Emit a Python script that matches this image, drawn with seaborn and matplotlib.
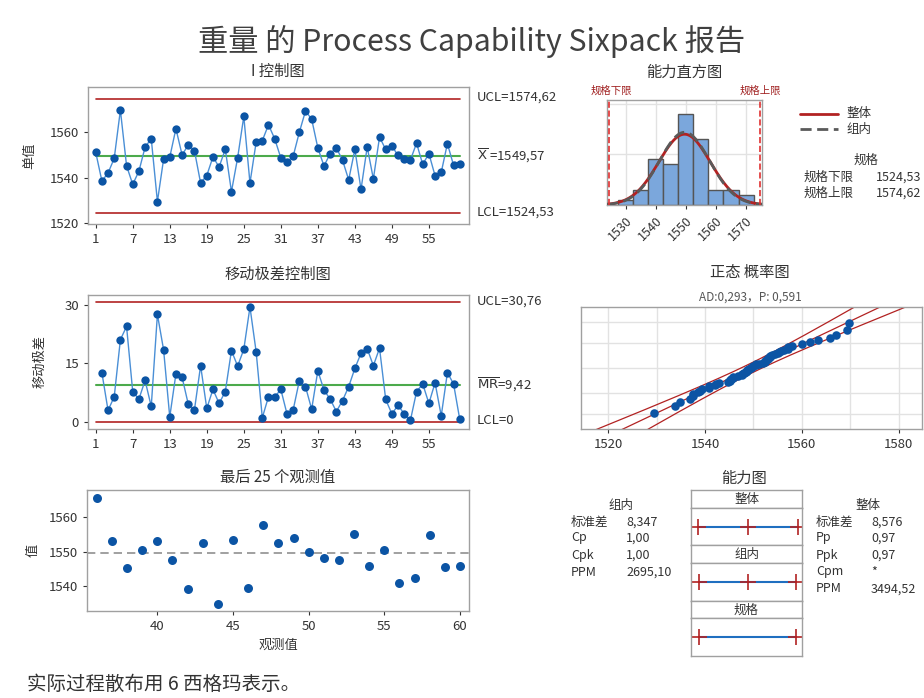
import numpy as np
import matplotlib
matplotlib.use("Agg")
import matplotlib.pyplot as plt
from matplotlib.lines import Line2D
import seaborn as sns
from statistics import NormalDist

# 数据
obs = np.arange(1, 61)
weight = [1551.2, 1538.5, 1542.0, 1548.5, 1569.8, 1545.2, 1537.0, 1542.8, 1553.4, 1557.2,
          1529.4, 1548.1, 1549.0, 1561.6, 1550.0, 1554.4, 1551.9, 1537.6, 1540.9, 1549.1,
          1544.7, 1552.5, 1533.8, 1548.7, 1567.0, 1537.6, 1555.6, 1556.3, 1563.3, 1557.2,
          1548.7, 1546.9, 1549.4, 1560.0, 1569.4, 1565.8, 1553.1, 1545.1, 1550.6, 1553.1,
          1547.7, 1539.0, 1552.4, 1534.8, 1553.5, 1539.4, 1557.9, 1552.4, 1553.9, 1549.8,
          1548.1, 1547.7, 1555.2, 1545.8, 1550.6, 1540.8, 1542.3, 1555.0, 1545.4, 1545.8]
mr_obs = np.arange(2, 61)
mr_vals = [12.6, 2.9, 6.4, 21.1, 24.5, 7.7, 5.8, 10.6, 3.9, 27.6,
           18.5, 1.2, 12.3, 11.4, 4.5, 3.0, 14.4, 3.4, 8.3, 4.7,
           7.7, 18.3, 14.3, 18.6, 29.5, 18.0, 1.0, 6.4, 6.3, 8.3,
           2.0, 3.0, 10.5, 9.0, 3.2, 13.1, 8.1, 5.8, 2.6, 5.4,
           9.0, 13.7, 17.6, 18.8, 14.4, 18.9, 5.7, 2.0, 4.2, 2.0,
           0.3, 7.7, 9.7, 4.7, 10.0, 1.5, 12.6, 9.7, 0.6]

x_bar, ucl_i, lcl_i = 1549.57, 1574.62, 1524.53
mr_bar, ucl_mr, lcl_mr = 9.42, 30.76, 0.0
lsl, usl = 1524.53, 1574.62
sd_within, sd_overall = 8.347, 8.576

within_rows = [("标准差", "8,347"), ("Cp", "1,00"), ("Cpk", "1,00"), ("PPM", "2695,10")]
overall_rows = [("标准差", "8,576"), ("Pp", "0,97"), ("Ppk", "0,97"), ("Cpm", "*"), ("PPM", "3494,52")]

# 颜色
pt_blue = "#0B54A4"
ln_blue = "#4A8FD6"
green = "#4CAA4C"
red = "#B22222"
txt = "#333333"
frame = "#A0A0A0"

sns.set_theme(style="white")
plt.rcParams['font.family'] = ['Noto Sans CJK SC', 'DejaVu Sans']
plt.rcParams['axes.unicode_minus'] = False

W, H = 924, 698
fig = plt.figure(figsize=(W / 100, H / 100), dpi=100)
fig.patch.set_facecolor("white")


def box(l, t, r, b):
    return fig.add_axes([l / W, 1 - b / H, (r - l) / W, (b - t) / H])


def ftext(x, y, s, **kw):
    kw.setdefault("color", txt)
    kw.setdefault("va", "center")
    fig.text(x / W, 1 - y / H, s, **kw)


def style(ax, size=9.5):
    for sp in ax.spines.values():
        sp.set_color(frame)
        sp.set_linewidth(1)
    ax.tick_params(labelsize=size, colors=txt, length=3, width=0.8, direction="out",
                   bottom=True, left=True)
    ax.set_facecolor("white")


ftext(472, 42, "重量 的 Process Capability Sixpack 报告", ha="center", fontsize=21.8, color="#404040")

# I 控制图
ax1 = box(88, 87, 469, 224)
style(ax1)
ax1.plot([1, 60], [ucl_i, ucl_i], color=red, lw=1.2)
ax1.plot([1, 60], [lcl_i, lcl_i], color=red, lw=1.2)
ax1.plot([1, 60], [x_bar, x_bar], color=green, lw=1.5)
sns.lineplot(x=obs, y=weight, ax=ax1, color=ln_blue, lw=1)
sns.scatterplot(x=obs, y=weight, ax=ax1, color=pt_blue, s=36, linewidth=0, zorder=3)
ax1.set_xlim(-0.25, 61.5)
ax1.set_ylim(1519.5, 1580)
ax1.set_xticks(range(1, 61, 6))
ax1.set_yticks([1520, 1540, 1560])
ax1.set_ylabel("单值", fontsize=9.5, color=txt)
ax1.yaxis.set_label_coords(-0.135, 0.5)
ax1.set_xlabel("")
ftext(278, 71, "I 控制图", ha="center", fontsize=11)
ftext(477, 97, "UCL=1574,62", fontsize=9.5)
ftext(477, 155, r"$\overline{\rm X}$ =1549,57", fontsize=9.5)
ftext(477, 212, "LCL=1524,53", fontsize=9.5)

# 移动极差控制图
ax2 = box(88, 295, 469, 429)
style(ax2)
ax2.plot([1, 60], [ucl_mr, ucl_mr], color=red, lw=1.2)
ax2.plot([1, 60], [lcl_mr, lcl_mr], color=red, lw=1.2)
ax2.plot([1, 60], [mr_bar, mr_bar], color=green, lw=1.5)
sns.lineplot(x=mr_obs, y=mr_vals, ax=ax2, color=ln_blue, lw=1)
sns.scatterplot(x=mr_obs, y=mr_vals, ax=ax2, color=pt_blue, s=36, linewidth=0, zorder=3)
ax2.set_xlim(-0.25, 61.5)
ax2.set_ylim(-1.9, 32.6)
ax2.set_xticks(range(1, 61, 6))
ax2.set_yticks([0, 15, 30])
ax2.set_ylabel("移动极差", fontsize=9.5, color=txt)
ax2.yaxis.set_label_coords(-0.11, 0.5)
ax2.set_xlabel("")
ftext(278, 274, "移动极差控制图", ha="center", fontsize=11)
ftext(477, 301, "UCL=30,76", fontsize=9.5)
ftext(477, 384, r"$\overline{\rm MR}$=9,42", fontsize=9.5)
ftext(477, 420, "LCL=0", fontsize=9.5)

# 最后 25 个观测值
ax3 = box(87, 490, 469, 611)
style(ax3)
ax3.axhline(x_bar, color="#909090", lw=1.2, ls=(0, (5, 3)))
sns.scatterplot(x=obs[-25:], y=weight[-25:], ax=ax3, color=pt_blue, s=42, linewidth=0, zorder=3)
ax3.set_xlim(35.35, 60.6)
ax3.set_ylim(1532.7, 1568)
ax3.set_xticks(range(40, 61, 5))
ax3.set_yticks([1540, 1550, 1560])
ax3.set_xlabel("观测值", fontsize=9.5, color=txt)
ax3.set_ylabel("值", fontsize=9.5, color=txt)
ax3.yaxis.set_label_coords(-0.125, 0.5)
ftext(278, 477, "最后 25 个观测值", ha="center", fontsize=11)

# 能力直方图
ax4 = box(607, 100, 762, 205)
style(ax4, 9)
ax4.set_axisbelow(True)
ax4.grid(True, color="#E2E2E2", lw=1)
sns.histplot(x=weight, bins=np.arange(1527.5, 1573, 5), ax=ax4, color="#7BA7DC",
             edgecolor="#555555", linewidth=1, alpha=1)
xs = np.linspace(1523.8, 1575.3, 300)
nd_over = NormalDist(x_bar, sd_overall)
nd_with = NormalDist(x_bar, sd_within)
scale = len(weight) * 5
ax4.plot(xs, [scale * nd_over.pdf(v) for v in xs], color=red, lw=2, zorder=4)
ax4.plot(xs, [scale * nd_with.pdf(v) for v in xs], color="#5A5A5A", lw=2, ls=(0, (4, 2)), zorder=4)
ax4.axvline(lsl, color="#E03030", ls="--", lw=1.2, zorder=5)
ax4.axvline(usl, color="#E03030", ls="--", lw=1.2, zorder=5)
ax4.set_xlim(1523.8, 1575.3)
ax4.set_ylim(0, 20.7)
ax4.set_xticks([1530, 1540, 1550, 1560, 1570])
ax4.set_yticks([10, 20])
ax4.set_yticklabels([])
ax4.tick_params(axis="y", length=0)
ax4.set_ylabel("")
for lab in ax4.get_xticklabels():
    lab.set_rotation(45)
    lab.set_ha("right")
    lab.set_rotation_mode("anchor")
ftext(684, 72, "能力直方图", ha="center", fontsize=11)
ftext(611, 91, "规格下限", ha="center", fontsize=7.5, color="#A02020")
ftext(760, 91, "规格上限", ha="center", fontsize=7.5, color="#A02020")

# 图例
fig.add_artist(Line2D([800 / W, 838 / W], [1 - 114 / H, 1 - 114 / H], color=red, lw=2))
fig.add_artist(Line2D([800 / W, 838 / W], [1 - 129 / H, 1 - 129 / H], color="#5A5A5A", lw=2,
                      ls=(0, (4, 2))))
ftext(846, 114, "整体", fontsize=9)
ftext(846, 129, "组内", fontsize=9)
ftext(866, 160, "规格", ha="center", fontsize=9)
ftext(804, 177, "规格下限", fontsize=9)
ftext(876, 177, "1524,53", fontsize=9)
ftext(804, 193, "规格上限", fontsize=9)
ftext(876, 193, "1574,62", fontsize=9)

# 正态 概率图
ax5 = box(581, 307, 922, 429)
style(ax5)
ax5.set_axisbelow(True)
n = len(weight)
std_norm = NormalDist()
sorted_w = np.sort(weight)
z_pos = [std_norm.inv_cdf((i - 0.3) / (n + 0.4)) for i in range(1, n + 1)]
zz = np.linspace(-3.2, 3.2, 200)
fit = x_bar + sd_overall * zz
half = 1.96 * sd_overall * np.sqrt(1 / n + zz ** 2 / (2 * (n - 1)))
for line in (fit, fit - half, fit + half):
    ax5.plot(line, zz, color=red, lw=0.9)
sns.scatterplot(x=sorted_w, y=z_pos, ax=ax5, color=pt_blue, s=38, linewidth=0, zorder=3)
ax5.set_xlim(1514.4, 1584.8)
ax5.set_ylim(-3.09, 3.1)
ax5.set_xticks([1520, 1540, 1560, 1580])
ax5.set_xticks([1530, 1550, 1570], minor=True)
ax5.set_yticks([std_norm.inv_cdf(p) for p in (0.01, 0.1, 0.5, 0.9, 0.99)])
ax5.set_yticklabels([])
ax5.tick_params(axis="y", length=0)
ax5.tick_params(axis="x", which="minor", length=0)
ax5.grid(True, which="both", color="#E2E2E2", lw=1)
ftext(750, 272, "正态 概率图", ha="center", fontsize=11)
ftext(750, 297, "AD:0,293，P: 0,591", ha="center", fontsize=8.5, color="#555555")

# 能力图
ftext(744, 478, "能力图", ha="center", fontsize=11)
panels = [("整体", (x_bar - 3 * sd_overall, x_bar, x_bar + 3 * sd_overall), 490, 508, 545),
          ("组内", (x_bar - 3 * sd_within, x_bar, x_bar + 3 * sd_within), 545, 563, 601),
          ("规格", (lsl, usl), 601, 618, 656)]
for name, marks, top, mid, bottom in panels:
    hax = box(691, top, 802, mid)
    lax = box(691, mid, 802, bottom)
    for a in (hax, lax):
        a.set_xticks([])
        a.set_yticks([])
        for sp in a.spines.values():
            sp.set_color(frame)
            sp.set_linewidth(1)
    hax.text(0.5, 0.45, name, ha="center", va="center", fontsize=9, color=txt,
             transform=hax.transAxes)
    lax.set_xlim(1520.2, 1577.5)
    lax.set_ylim(0, 1)
    lax.plot([marks[0], marks[-1]], [0.5, 0.5], color="#1F6FC0", lw=1.5)
    lax.plot(marks, [0.5] * len(marks), ls="none", marker="+", ms=11, mew=1.2, color=red)

ftext(621, 505, "组内", ha="center", fontsize=9)
for (lab, val), y in zip(within_rows, [522, 538, 555, 572]):
    ftext(571, y, lab, fontsize=9)
    ftext(626, y, val, fontsize=9)
ftext(868, 505, "整体", ha="center", fontsize=9)
for (lab, val), y in zip(overall_rows, [522, 538, 555, 572, 589]):
    ftext(816, y, lab, fontsize=9)
    ftext(871, y, val, fontsize=9)

ftext(27, 684, "实际过程散布用 6 西格玛表示。", fontsize=14)

fig.savefig("out.png", dpi=100)
